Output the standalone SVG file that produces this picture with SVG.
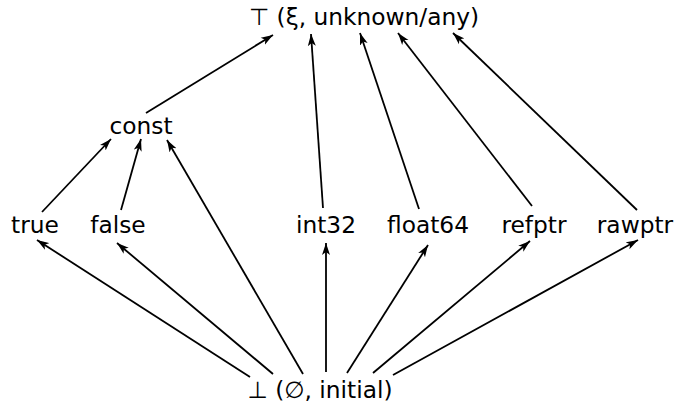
<svg xmlns="http://www.w3.org/2000/svg" width="678" height="406" viewBox="0 0 678 406">
<style>
text{font-family:"DejaVu Sans",sans-serif;font-size:23.3px;fill:#000;text-anchor:middle}
.e line{stroke:#000;stroke-width:1.8;marker-end:url(#ah)}
</style>
<defs>
<marker id="ah" markerUnits="userSpaceOnUse" markerWidth="13" markerHeight="9" refX="12" refY="4.5" orient="auto">
<path d="M0,0.5 L12,4.5 L0,8.5 L3,4.5 z" fill="#000"/>
</marker>
</defs>
<rect width="678" height="406" fill="#fff"/>
<g class="e" id="edges">
<line x1="146" y1="113" x2="273" y2="35"/>
<line x1="323" y1="208" x2="311" y2="34"/>
<line x1="419" y1="209" x2="360" y2="33"/>
<line x1="532" y1="206" x2="398" y2="33"/>
<line x1="637" y1="210" x2="453" y2="33"/>
<line x1="42" y1="212" x2="111" y2="139"/>
<line x1="121" y1="210" x2="141" y2="139"/>
<line x1="303" y1="374" x2="167" y2="140"/>
<line x1="250" y1="377" x2="37" y2="240"/>
<line x1="273" y1="374" x2="117" y2="243"/>
<line x1="326" y1="372" x2="326" y2="243"/>
<line x1="347" y1="373" x2="428" y2="245"/>
<line x1="373" y1="373" x2="530" y2="241"/>
<line x1="393" y1="375" x2="638" y2="240"/>
</g>
<g id="top"><text x="364" y="25">⊤ (ξ, unknown/any)</text></g>
<g id="const"><text x="141" y="134">const</text></g>
<g id="true"><text x="35" y="233">true</text></g>
<g id="false"><text x="118" y="233">false</text></g>
<g id="int32"><text x="326" y="233">int32</text></g>
<g id="float64"><text x="428" y="233">float64</text></g>
<g id="refptr"><text x="534" y="233">refptr</text></g>
<g id="rawptr"><text x="635" y="233">rawptr</text></g>
<g id="bottom"><text x="320" y="398">⊥ (∅, initial)</text></g>
</svg>
